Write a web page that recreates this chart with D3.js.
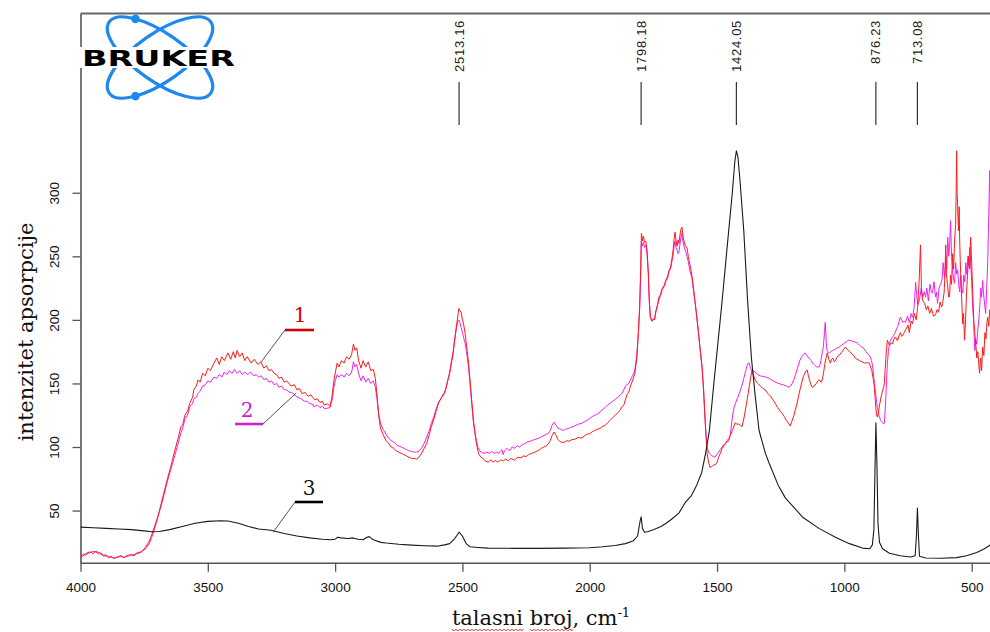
<!DOCTYPE html>
<html><head><meta charset="utf-8">
<script src="https://cdn.jsdelivr.net/npm/d3@7"></script>
<style>body{margin:0;background:#fff;} svg{display:block}</style>
</head><body>
<svg id="chart" width="990" height="632"></svg>
<script>
// ---------- DATA ----------
const xTicks = [4000, 3500, 3000, 2500, 2000, 1500, 1000, 500];
const yTicks = [50, 100, 150, 200, 250, 300];
const peakPositions = [2513.16, 1798.18, 1424.05, 876.23, 713.08];
const peakLabels = ["2513.16", "1798.18", "1424.05", "876.23", "713.08"];
const seriesNames = ["1", "2", "3"];
const yTitle = "intenzitet apsorpcije";
const xTitleMain = "talasni broj, cm";
const xTitleSup = "-1";
const logoText = "BRUKER";

// series 1 (red): [wavenumber, intensity]
const sample1 = [
[4000,15],[3990,14],[3980,16],[3970,17],[3960,17.5],[3950,16],[3940,18],[3930,17],[3920,16.5],[3910,15],[3900,15],[3890,13.5],[3880,14],[3870,12.5],[3860,13],[3850,14],[3840,14.5],[3830,13],[3820,13.8],[3810,14.5],[3800,15.5],[3790,15],[3780,16.5],[3770,17],[3760,18],[3745,21],[3730,26],[3720,31],[3710,37],[3700,43],[3690,50],[3675,62],[3660,74],[3646,84],[3630,97],[3615,108],[3606,115.7],[3598,118],[3590,125],[3580,128],[3570,135],[3560,139],[3555,145],[3545,148],[3539,152.7],[3530,151],[3520,158],[3510,156],[3500,162],[3490,160],[3476,166],[3465,170],[3455,165],[3445,171],[3435,168],[3421,174],[3410,169],[3400,175],[3392,170],[3385,176],[3375,171],[3365,174],[3355,168],[3345,171],[3330,166],[3318,169],[3303,165],[3292,167],[3280,162],[3270,164],[3260,160],[3250,161],[3240,158],[3230,157],[3220,154],[3210,155],[3200,151],[3190,152],[3173,148],[3160,149],[3150,145],[3140,146],[3130,142],[3118,143],[3106,140],[3095,141],[3080,137],[3070,138],[3060,135],[3050,136],[3043,133],[3030,134],[3020,132],[3012,140],[3005,152],[2998,160],[2992,166],[2985,163],[2975,168],[2965,166],[2955,171],[2945,169],[2935,173],[2928,181],[2922,176],[2915,178],[2908,168],[2898,162],[2890,168],[2880,163],[2870,167],[2860,160],[2850,161],[2842,154],[2835,140],[2829,125],[2822,115],[2812,110],[2800,105],[2790,103],[2780,100],[2770,99],[2760,97],[2750,96],[2740,95],[2730,94],[2720,93],[2710,92],[2700,91],[2690,91],[2680,90.5],[2670,92],[2661,95],[2650,99],[2640,103],[2630,110],[2622,116],[2612,122],[2605,127],[2594,134.5],[2585,138],[2577,141],[2571,142.5],[2565,146],[2558,152],[2550,158],[2543,166],[2536,174],[2530,185],[2524,194.5],[2518,203],[2514,209],[2510,207],[2505,206],[2500,200],[2496,197.5],[2490,190],[2484,180],[2476,166],[2466,143],[2457,121],[2447,105],[2437,95],[2428,92],[2420,91],[2410,89],[2398,88],[2388,90],[2380,88],[2370,89.5],[2360,88],[2350,90],[2340,89],[2330,90.5],[2320,89],[2310,91],[2295,89.7],[2283,92],[2270,91.5],[2260,93],[2250,92.5],[2240,94],[2228,95],[2215,96],[2200,97.5],[2190,99],[2180,100],[2170,101],[2161,103],[2155,105],[2148,109],[2140,111.8],[2132,109],[2125,106],[2115,104],[2102,103.5],[2090,105],[2080,104.5],[2070,106],[2060,106],[2045,107.5],[2031,107],[2020,109],[2010,110],[2000,110.5],[1990,112],[1980,113],[1970,114],[1960,114.5],[1953,115.7],[1940,117],[1930,119],[1920,121],[1910,123],[1900,125],[1890,127],[1880,129],[1874,131.5],[1866,133],[1860,137],[1854,141],[1847,143],[1840,148],[1832,152],[1823,158],[1815,170],[1809,190],[1804,210],[1800,240],[1797,268],[1793,262],[1789,266],[1785,261],[1780,262],[1775,255],[1770,238],[1766,215],[1762,202],[1756,199],[1750,201],[1745,200],[1740,207],[1734,212],[1728,218],[1722,220],[1715,225],[1708,227],[1700,232],[1694,234],[1689,239],[1683,241],[1677,248],[1672,256],[1668,265],[1665,269],[1661,262],[1657,258],[1653,263],[1650,260],[1646,266],[1642,271],[1638,273],[1634,266],[1630,262],[1624,258],[1618,257],[1613,250],[1608,245],[1603,240],[1598,234],[1592,224],[1587,215.6],[1580,203],[1573,190],[1566,176],[1559,163],[1553,145],[1549,130],[1544,110],[1539,95],[1533,88],[1528,84],[1522,84.5],[1518,85],[1513,86],[1508,85.8],[1500,88],[1494,92],[1487,95],[1480,99],[1473,101],[1466,103],[1460,105],[1453,107],[1446,110],[1440,113],[1434,116],[1429,119],[1422,118],[1415,118],[1408,117],[1402,116],[1395,122],[1388,130],[1381,138],[1374,147],[1368,155],[1362,160.6],[1356,156],[1350,152.7],[1340,150],[1330,148],[1320,146],[1311,145],[1300,142],[1290,140],[1280,137],[1272,134.5],[1265,132],[1258,130],[1251,128],[1244,126.5],[1236,124],[1228,121],[1220,119],[1213,116.5],[1208,119],[1203,122],[1198,125],[1193,129],[1186,134],[1180,140],[1172,147],[1165,152.7],[1160,156],[1155,158],[1150,160],[1146,160.6],[1141,156],[1136,152],[1131,149],[1126,147],[1118,148],[1110,150],[1104,152],[1098,153],[1092,151],[1087,152.7],[1082,158],[1077,165],[1072,170],[1067,174],[1061,169],[1055,166],[1050,169],[1045,170],[1040,167],[1035,168],[1028,171],[1020,172],[1014,174],[1008,175],[1002,177],[996,178.6],[990,177],[985,176],[978,175],[970,173],[963,172],[957,170],[950,169],[940,168],[930,167],[920,166],[910,166.5],[902,166],[897,163],[892,160],[887,154],[882,147],[879,138],[876,130],[873,125],[870,123.5],[867,126],[864,130],[861,134],[858,137],[854,141],[850,144],[846,147],[843,150],[840,160],[837,170],[834,178],[831,184],[827,182],[822,180],[816,182],[811,181],[805,185],[799,186.6],[794,184],[790,184],[785,188],[780,190],[775,187],[770,188],[765,190],
[760,192],[750,196],[745,190],[738,199],[732,197],[725,205],[718,200],[712,210],[706,232],[701,259],[697,222],[692,215],[685,213],[678,208],[672,211],[665,205],[658,209],[650,203],[642,204],[636,208],[630,206],[624,214],[618,210],[614,213],[608,222],[604,240],[602,259],[599,236],[595,228],[590,218],[587,218],[583,235],[579,228],[575,252],[571,240],[567,262],[563,275],[561,300],[559,333],[557,300],[555,289],[552,270],[549,289],[547,262],[545,247],[542,230],[539,215],[535,197],[532,205],[528,184],[524,200],[520,222],[516,237],[512,250],[508,240],[504,265],[500,245],[496,223],[492,200],[488,190],[484,181.6],[480,170],[476,175],[472,165],[469,158],[465,170],[461,160],[457,178.6],[452,172],[448,190],[444,185],[440,198],[437,202],[433,195],[429,208],[425,200],[421,215.6],[417,210],[413,214]
];

// series 2 (magenta)
const sample2 = [
[4000,14],[3990,16],[3980,15],[3970,16.5],[3960,17],[3950,18],[3940,17.5],[3930,16],[3920,16],[3910,14],[3900,14.5],[3890,13],[3880,13.5],[3870,12.5],[3860,13],[3850,13.5],[3840,14],[3830,13],[3820,14.5],[3810,15],[3800,15],[3790,14.5],[3780,16],[3770,16.5],[3760,17.5],[3745,20],[3730,24],[3720,29],[3710,35],[3700,42],[3690,49],[3675,60],[3660,72],[3646,82],[3630,93],[3615,104],[3606,111],[3598,115],[3590,122],[3580,125],[3570,132],[3560,134],[3555,138],[3545,139],[3539,142],[3530,144],[3520,148],[3510,149],[3500,152],[3490,151],[3476,155],[3465,154],[3455,157],[3445,155],[3435,159],[3425,157],[3415,160],[3405,158],[3395,161],[3385,158],[3375,160],[3365,157],[3355,159],[3343,157],[3332,159],[3320,156],[3310,157],[3300,155],[3290,156],[3280,153],[3270,154],[3260,151],[3250,152],[3240,149],[3230,150],[3220,147],[3210,148],[3200,145],[3190,145],[3180,143],[3170,143],[3160,141],[3146,139],[3135,138],[3120,136],[3110,136],[3100,134],[3090,134],[3083,131.5],[3070,133],[3060,131],[3050,132],[3040,130],[3028,130.7],[3020,131],[3012,137],[3005,147],[2998,153],[2992,157],[2985,155],[2975,157],[2965,155],[2955,158],[2945,156],[2935,159],[2928,167],[2922,163],[2915,165],[2908,158],[2898,152],[2890,156],[2880,151],[2870,154],[2860,150],[2850,152],[2842,147],[2835,137],[2829,126],[2822,119],[2812,114],[2800,110],[2790,107],[2780,105],[2770,104],[2760,102],[2752,101],[2740,100],[2730,99],[2720,98],[2710,97],[2700,96.5],[2689,96],[2680,96],[2670,97],[2661,99],[2650,103],[2640,108],[2630,113],[2622,118.6],[2612,124],[2605,129],[2594,135],[2585,138],[2577,140],[2571,142],[2565,146],[2558,152],[2550,159],[2543,168],[2536,176],[2530,185],[2524,193],[2518,199],[2514,200],[2510,198],[2505,194],[2500,190],[2496,186.6],[2490,182],[2484,175],[2476,163],[2466,140],[2457,120],[2450,110],[2440,100],[2432,97],[2425,96],[2415,95],[2405,96],[2395,95],[2385,96.5],[2375,95],[2365,96],[2358,95],[2350,97],[2345,98],[2340,94],[2335,97],[2325,99],[2315,97],[2305,100],[2295,99],[2285,101],[2275,100],[2265,102],[2255,102.5],[2245,104],[2235,104.5],[2228,105],[2215,106],[2200,107],[2190,108],[2180,109],[2170,110],[2161,111],[2155,113],[2148,117],[2140,119.6],[2132,117],[2125,115],[2115,114],[2104,113],[2095,114],[2085,114.5],[2075,115.5],[2065,116],[2055,117],[2045,118],[2031,118.6],[2020,120],[2010,121],[2000,122.5],[1990,124],[1980,125],[1970,126],[1960,127.5],[1953,129],[1940,131],[1930,133],[1920,134.5],[1910,136],[1900,137.5],[1890,139],[1880,141],[1874,142],[1866,145],[1860,148],[1854,149],[1846,150],[1840,153],[1835,155],[1829,157],[1823,160.6],[1815,172],[1809,190],[1804,208],[1800,235],[1797,262],[1793,258],[1789,261],[1785,257],[1780,259],[1775,252],[1770,236],[1766,214],[1762,203],[1756,199],[1750,200],[1745,201],[1740,207],[1734,211],[1728,216],[1722,219],[1715,224],[1708,226],[1700,231],[1694,233],[1689,238],[1683,240],[1677,246],[1672,252],[1668,259],[1665,262],[1661,257],[1657,255],[1653,252],[1650,253],[1646,259],[1642,265],[1638,268],[1634,262],[1630,258],[1624,254],[1618,250],[1613,246],[1608,240],[1603,236],[1598,232],[1592,222],[1587,215],[1580,203],[1573,190],[1566,176],[1559,163],[1553,146],[1549,128],[1544,112],[1539,100],[1535,97],[1531,95],[1525,94],[1520,93],[1514,92.5],[1508,92],[1501,94],[1494,96],[1487,98],[1480,100],[1473,102],[1466,103],[1460,104],[1453,105],[1448,110],[1443,118],[1438,126],[1433,131.5],[1428,134],[1423,137],[1418,139],[1413,142],[1406,146],[1400,150],[1395,154],[1390,158],[1386,161],[1382,164],[1378,166],[1374,166],[1370,163],[1365,160],[1358,160],[1350,159],[1340,157],[1330,156],[1320,155.5],[1310,155],[1300,154.5],[1295,154],[1288,153],[1280,152],[1270,151],[1260,150],[1250,149.5],[1240,149],[1228,148],[1217,147],[1211,148],[1205,150],[1198,153],[1190,158],[1183,163],[1175,168],[1170,170],[1165,172],[1160,173],[1154,174],[1147,172],[1140,170],[1135,169],[1130,168],[1125,166],[1120,165],[1115,164],[1110,163],[1104,163],[1098,163],[1094,166],[1090,170],[1086,176],[1083,178],[1080,185],[1078,190],[1076,196],[1075,198],[1073,190],[1071,182],[1068,176],[1065,175],[1062,174],[1059,174],[1052,175],[1045,176],[1040,176.5],[1035,177],[1028,178],[1020,178.6],[1012,180],[1005,181],[998,182],[990,183],[985,184],[980,184],[972,183.5],[965,183],[958,182.5],[950,182],[945,181],[940,180],[935,179],[929,178.6],[922,177],[915,175],[907,173],[898,171],[894,168],[890,165],[886,158],[882,150],[879,145],[876,140],[873,135],[870,131],[867,128],[864,125],[861,123],[858,121],[854,120],[850,119],[847,118.5],[843,118.6],[840,128],[837,140],[834,153],[831,166],[827,175],[823,181.6],[818,184],[812,186],[806,188],[800,190],[795,193],[790,195],[785,199],[780,202],[775,200],[770,198],[765,199],
[760,198],[752,203],[745,198],[738,205],[732,202],[726,210],[720,229.5],[716,220],[712,212],[705,215.6],[698,225],[692,218],[686,222],[681,218],[676,225],[670,215],[664,228],[658,222],[654,221],[648,230],[642,218],[638,222],[634,213],[628,225],[622,228],[616,232],[612,245],[608,236],[606,233.6],[602,250],[598,240],[594,265],[590,250],[586,262],[583,278],[579,250],[575,240],[571,232],[567,228.7],[563,245],[559,236],[555,239],[551,228],[547,222],[543,235],[539,225],[535,221],[531,235],[527,230],[523,245],[519,236],[515,250],[511,242],[508,257],[504,245],[500,230],[496,210],[492,198],[488,176],[484,185],[480,181],[476,192],[472,200],[468,212],[464,225],[461,218],[457,231],[453,220],[449,212],[445,205],[441,225],[437,245],[433,280],[431,300],[429,317.6],[427,290],[425,250],[421,225.6],[417,232],[413,228]
];

// series 3 (black)
const sample3 = [
[4000,37],[3950,36.5],[3900,36],[3850,35.5],[3800,35],[3750,34],[3720,33.4],[3690,33.5],[3650,35],[3600,37.5],[3550,40],[3500,41.5],[3450,42],[3420,41.8],[3380,40],[3340,37.5],[3300,35.5],[3252,34.5],[3200,32],[3150,30],[3100,28.5],[3050,27.5],[3016,27],[3000,27.5],[2990,29],[2976,28.5],[2950,28],[2930,28.5],[2910,27.5],[2890,27],[2875,29],[2866,29.5],[2850,27],[2820,25],[2800,24.5],[2750,23.5],[2700,22.8],[2650,22.3],[2600,22],[2570,23],[2550,24],[2530,28],[2513,33],[2500,30],[2485,24],[2470,21.5],[2440,21],[2400,20.5],[2300,20.3],[2200,20.3],[2100,20.5],[2000,20.8],[1950,21.5],[1900,22.5],[1860,24],[1830,26],[1812,30],[1802,42],[1798,45],[1793,36],[1785,33],[1770,33.5],[1750,35],[1720,37.5],[1700,40],[1680,43],[1650,48],[1626,56],[1600,62],[1580,70],[1560,80],[1545,95],[1530,113],[1515,145],[1500,175],[1480,215],[1460,258],[1440,300],[1430,325],[1424,333],[1418,328],[1410,310],[1395,270],[1380,215],[1365,170],[1350,140],[1335,113],[1310,95],[1295,87],[1260,70],[1232,60],[1200,53],[1165,45],[1100,36],[1035,29],[980,24],[929,20.5],[900,20],[890,23],[884,35],[880,80],[876,119],[872,85],[868,40],[862,25],[850,20],[823,16.5],[780,14.5],[740,13.5],[722,14.5],[717,30],[713,52],[709,30],[705,14],[681,12.7],[620,12.5],[560,13],[520,14.5],[480,17],[450,20],[430,22.5],[413,26]
];

// leader targets for the numbered labels: [wavenumber, intensity]
const labelTargets = [[3290, 167], [3153, 142.5], [3243, 33]];

// ---------- DRAW ----------
const svg = d3.select("#chart");
const plotLeft = 80.5, plotRight = 990, plotTop = 13.5, plotBottom = 562.7;
const x = d3.scaleLinear().domain([4000, 428]).range([plotLeft, plotRight]);
const y = d3.scaleLinear().domain([9, 441]).range([plotBottom, plotTop]);

const colors = ["#ff1a1a", "#f020f0", "#1a1a1a"];
const barColors = ["#cc0000", "#cc22cc", "#000000"];

svg.append("defs").append("clipPath").attr("id", "plotclip")
  .append("rect").attr("x", plotLeft).attr("y", plotTop).attr("width", plotRight - plotLeft).attr("height", plotBottom - plotTop);

// axes
const xAxis = svg.append("g").attr("transform", `translate(0,${plotBottom})`)
  .call(d3.axisBottom(x).tickValues(xTicks).tickSize(9).tickSizeOuter(0).tickPadding(11).tickFormat(d3.format("d")));
const yAxis = svg.append("g").attr("transform", `translate(${plotLeft},0)`)
  .call(d3.axisLeft(y).tickValues(yTicks).tickSize(8).tickSizeOuter(0).tickFormat(d3.format("d")));
[xAxis, yAxis].forEach(g => {
  g.select(".domain").attr("stroke", "#555").attr("stroke-width", 1.6);
  g.selectAll(".tick line").attr("stroke", "#555").attr("stroke-width", 1.3);
  g.selectAll(".tick text").attr("font-family", "'Liberation Sans', Arial, sans-serif")
    .attr("font-size", 13.5).attr("fill", "#111");
});
yAxis.selectAll(".tick text")
  .attr("transform", "rotate(-90)").attr("x", 0).attr("y", -22).attr("dy", 0)
  .attr("text-anchor", "middle");

// top frame line
svg.append("line").attr("x1", plotLeft).attr("x2", plotRight).attr("y1", plotTop).attr("y2", plotTop)
  .attr("stroke", "#666").attr("stroke-width", 2);

// lines
const line = d3.line().x(d => x(d[0])).y(d => y(d[1]));
const plot = svg.append("g").attr("clip-path", "url(#plotclip)");
[sample2, sample1, sample3].forEach((s, i) => {
  const ci = [1, 0, 2][i];
  plot.append("path").datum(s).attr("d", line).attr("fill", "none")
    .attr("stroke", colors[ci]).attr("stroke-width", ci === 2 ? 1.1 : 1)
    .attr("stroke-linejoin", "round");
});

// peak markers
const peaks = svg.append("g");
peakPositions.forEach((p, i) => {
  const px = x(p);
  peaks.append("line").attr("x1", px).attr("x2", px).attr("y1", 82).attr("y2", 125)
    .attr("stroke", "#333").attr("stroke-width", 1.2);
  peaks.append("text").attr("transform", `translate(${px},20) rotate(-90)`)
    .attr("text-anchor", "end").attr("dominant-baseline", "central")
    .attr("font-family", "'Liberation Sans', Arial, sans-serif").attr("font-size", 13)
    .attr("letter-spacing", 0.7)
    .attr("fill", "#222").text(peakLabels[i]);
});

// numbered labels with leaders
const labelBoxes = [
  {tx: 300, ty: 322, bx1: 285, bx2: 314, by: 330, ax: 285},
  {tx: 247, ty: 417, bx1: 235, bx2: 263, by: 424, ax: 263},
  {tx: 309, ty: 495, bx1: 295, bx2: 323, by: 502, ax: 295}
];
labelBoxes.forEach((b, i) => {
  const t = labelTargets[i];
  svg.append("line").attr("x1", b.ax).attr("y1", b.by).attr("x2", x(t[0])).attr("y2", y(t[1]))
    .attr("stroke", "#555").attr("stroke-width", 1);
  svg.append("line").attr("x1", b.bx1).attr("x2", b.bx2).attr("y1", b.by).attr("y2", b.by)
    .attr("stroke", barColors[i]).attr("stroke-width", 2.6);
  svg.append("text").attr("x", b.tx).attr("y", b.ty).attr("text-anchor", "middle")
    .attr("font-family", "'DejaVu Serif', serif").attr("font-size", 20)
    .attr("fill", i === 0 ? "#dd0000" : i === 1 ? "#cc22cc" : "#111").text(seriesNames[i]);
});

// axis titles
svg.append("text").attr("transform", "translate(26,332) rotate(-90)")
  .attr("text-anchor", "middle").attr("dominant-baseline", "central")
  .attr("font-family", "'DejaVu Serif', serif").attr("font-size", 21).attr("fill", "#111")
  .text(yTitle);

const xt = svg.append("text").attr("x", 541).attr("y", 625).attr("text-anchor", "middle")
  .attr("font-family", "'DejaVu Serif', serif").attr("font-size", 21).attr("fill", "#111");
xt.append("tspan").text(xTitleMain);
xt.append("tspan").attr("dy", -8).attr("font-size", 13).text(xTitleSup);

// spell-check squiggle under the first two words
(function () {
  const node = xt.node();
  const bb = node.getBBox();
  const startX = bb.x;
  const words = [[0, 7], [8, 4]];
  words.forEach(([s, n]) => {
    const x0 = startX + node.getSubStringLength(0, s);
    const w = node.getSubStringLength(s, n);
    let d = `M${x0},629`;
    for (let k = 0, xx = x0; xx < x0 + w; k++, xx += 2) {
      d += ` L${Math.min(xx + 2, x0 + w)},${k % 2 ? 629 : 631}`;
    }
    svg.append("path").attr("d", d).attr("fill", "none").attr("stroke", "#e03030").attr("stroke-width", 0.9);
  });
})();

// logo
const logo = svg.append("g");
const lcx = 160, lcy = 57.5, la = 62, lb = 24;
[35, -35].forEach((ang, i) => {
  const g = logo.append("g").attr("transform", `translate(${lcx},${lcy}) rotate(${ang})`);
  g.append("ellipse").attr("rx", la).attr("ry", lb).attr("fill", "none")
    .attr("stroke", "#1e88f0").attr("stroke-width", 3.2);
  const t = -133 * Math.PI / 180;
  g.append("circle").attr("cx", la * Math.cos(t)).attr("cy", (i === 0 ? 1 : -1) * lb * Math.sin(t))
    .attr("r", 4.3).attr("fill", "#1e88f0");
});
logo.append("rect").attr("x", 80).attr("y", 47).attr("width", 157).attr("height", 21).attr("fill", "#fff");
logo.append("text").attr("x", 82).attr("y", 66).attr("textLength", 153).attr("lengthAdjust", "spacingAndGlyphs")
  .attr("font-family", "'DejaVu Sans', sans-serif").attr("font-weight", "bold").attr("font-size", 22)
  .attr("fill", "#000").text(logoText);
</script>
</body></html>
